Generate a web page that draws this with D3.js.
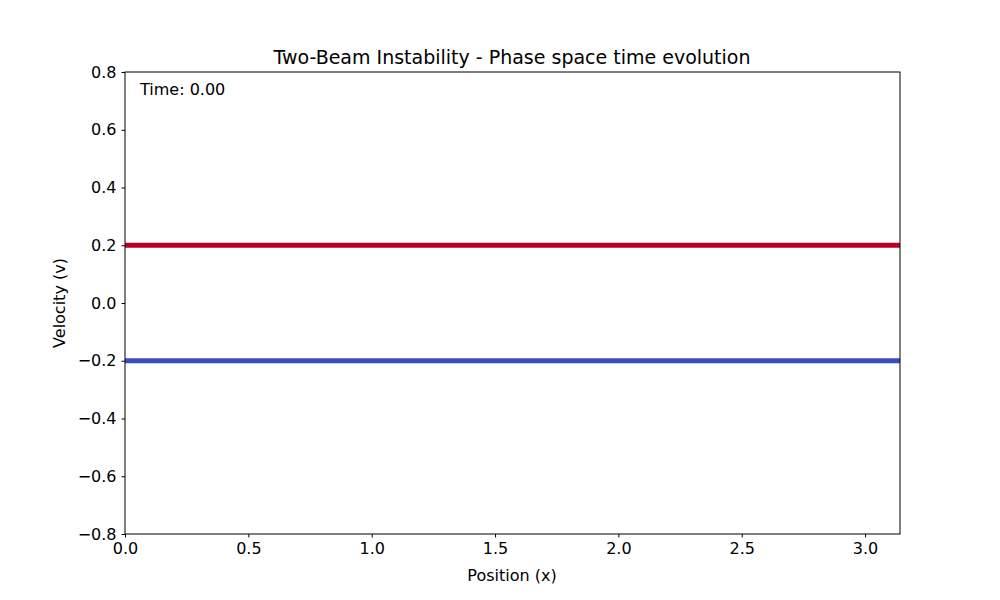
<!DOCTYPE html>
<html><head><meta charset="utf-8">
<script src="https://cdn.jsdelivr.net/npm/d3@7"></script>
<style>body{margin:0;background:#fff}text{font-family:"DejaVu Sans",sans-serif}</style>
</head><body><svg id="c" width="1000" height="600"></svg>
<script>
var beamNames = ['beam1', 'beam2']
var beamVelocities = [0.2, -0.2]
var beamColors = ['#b40426', '#3b4cc0']
var xTicks = [0, 0.5, 1.0, 1.5, 2.0, 2.5, 3.0]
var yTicks = [-0.8, -0.6, -0.4, -0.2, 0, 0.2, 0.4, 0.6, 0.8]
var xDomain = [0, Math.PI]

var svg = d3.select('#c')
var x = d3.scaleLinear().domain(xDomain).range([125, 900])
var y = d3.scaleLinear().domain([-0.8, 0.8]).range([534, 72])

// beams
var line = d3.line().x(function(d) { return x(d[0]) }).y(function(d) { return y(d[1]) })
beamNames.forEach(function(n, i) {
    svg.append('path')
        .attr('d', line([[xDomain[0], beamVelocities[i]], [xDomain[1], beamVelocities[i]]]))
        .attr('stroke', beamColors[i]).attr('stroke-width', 5).attr('fill', 'none')
})

var fmt = function(d) { return d3.format('.1f')(d).replace('-', '\u2212') }
var xa = svg.append('g').attr('transform', 'translate(0,534)')
    .call(d3.axisBottom(x).tickValues(xTicks).tickFormat(fmt).tickSizeOuter(0).tickSize(3.5).tickPadding(5))
var ya = svg.append('g').attr('transform', 'translate(125,0)')
    .call(d3.axisLeft(y).tickValues(yTicks).tickFormat(fmt).tickSizeOuter(0).tickSize(3.5).tickPadding(5))
;[xa, ya].forEach(function(a) {
    a.selectAll('text').attr('font-size', 16).attr('fill', '#000').style('font-family', 'DejaVu Sans')
    a.select('.domain').remove()
    a.selectAll('line').attr('stroke', '#000')
})
svg.append('rect').attr('x', 125).attr('y', 72).attr('width', 775).attr('height', 462)
    .attr('fill', 'none').attr('stroke', '#000').attr('stroke-width', 1)

svg.append('text').attr('x', 512).attr('y', 64).attr('text-anchor', 'middle')
    .attr('font-size', 19).text('Two-Beam Instability - Phase space time evolution')
svg.append('text').attr('x', 512).attr('y', 581).attr('text-anchor', 'middle')
    .attr('font-size', 16).text('Position (x)')
svg.append('text').attr('transform', 'translate(65,303) rotate(-90)').attr('text-anchor', 'middle')
    .attr('font-size', 16).text('Velocity (v)')
svg.append('text').attr('x', 140).attr('y', 95).attr('font-size', 16).text('Time: 0.00')
</script></body></html>
